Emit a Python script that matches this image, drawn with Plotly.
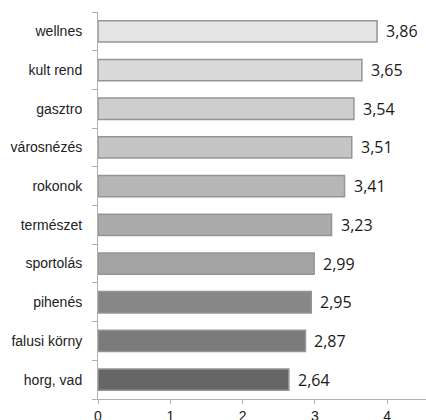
import plotly.graph_objects as go

# Mean scores per tourism motivation (top to bottom)
categories = ["wellnes", "kult rend", "gasztro", "városnézés", "rokonok",
              "természet", "sportolás", "pihenés", "falusi körny", "horg, vad"]
values = [3.86, 3.65, 3.54, 3.51, 3.41, 3.23, 2.99, 2.95, 2.87, 2.64]
labels = [f"{v:.2f}".replace(".", ",") for v in values]
bar_colors = ["#e4e4e4", "#dadada", "#cecece", "#c5c5c5", "#b6b6b6",
              "#ababab", "#a4a4a4", "#878787", "#7b7b7b", "#666666"]

fig = go.Figure(go.Bar(
    x=values,
    y=categories,
    orientation="h",
    width=0.55,
    marker=dict(color=bar_colors, line=dict(color="#959595", width=1.5)),
))

# value labels just right of each bar end
for cat, val, lab in zip(categories, values, labels):
    fig.add_annotation(
        x=val, y=cat, text=lab, showarrow=False,
        xanchor="left", yanchor="middle", xshift=7,
        font=dict(family="Open Sans, sans-serif", size=16, color="#1a1a1a"),
    )

fig.update_layout(
    width=426,
    height=420,
    margin=dict(l=98, r=0, t=12, b=21),
    paper_bgcolor="white",
    plot_bgcolor="white",
    showlegend=False,
    xaxis=dict(
        range=[0, 4.537],
        tickvals=[0, 1, 2, 3, 4],
        ticktext=["0", "1", "2", "3", "4"],
        showgrid=False,
        zeroline=False,
        showline=True,
        linecolor="#b0b0b0",
        linewidth=1,
        ticks="outside",
        ticklen=4,
        tickcolor="#b0b0b0",
        ticklabelstandoff=0,
        automargin=False,
        tickfont=dict(family="Liberation Sans, Arial, sans-serif", size=14, color="#222222"),
    ),
    yaxis=dict(
        categoryorder="array",
        categoryarray=categories[::-1],
        showgrid=False,
        showline=True,
        linecolor="#b0b0b0",
        linewidth=1,
        ticks="outside",
        tickson="boundaries",
        ticklen=5,
        tickcolor="#b0b0b0",
        ticklabelstandoff=12,
        automargin=False,
        tickfont=dict(family="Liberation Sans, Arial, sans-serif", size=14, color="#222222"),
    ),
)

fig.write_html("out.html")
